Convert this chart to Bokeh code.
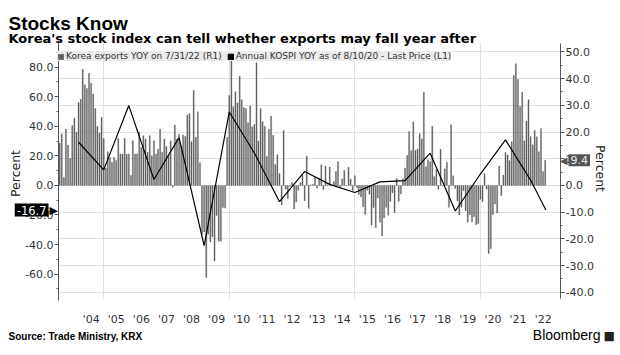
import numpy as np
import pandas as pd
from bokeh.plotting import figure
from bokeh.models import (Range1d, LinearAxis, FixedTicker, PrintfTickFormatter, Grid,
                          Legend, LegendItem, Label, ColumnDataSource)
from bokeh.embed import file_html
from bokeh.resources import INLINE

# ---------------- data ----------------
# Korea exports YoY (%), monthly, month-end, starting March 2003
exports_first_month = "2003-03-31"
exports_2003 = [15.9, 19.3, 3.0, 21.1, 15.1, 10.1, 22.4, 25.2, 19.9, 31.1]
exports_2004 = [32.3, 43.5, 37.7, 36.3, 42.0, 38.3, 34.2, 28.8, 22.1, 19.6, 25.5, 17.6]
exports_2005 = [6.4, 12.6, 10.5, 8.7, 10.5, 9.3, 17.6, 11.8, 11.8, 17.6, 11.8, 11.8]
exports_2006 = [3.7, 16.7, 11.8, 11.8, 19.9, 14.3, 18.6, 17.4, 12.4, 18.6, 11.1, 16.7]
exports_2007 = [11.8, 13.6, 21.1, 12.4, 17.4, 14.6, 11.1, 16.7, -0.7, 22.6, 17.4, 19.2]
exports_2008 = [14.9, 18.9, 18.4, 26.4, 26.9, 16.4, 35.6, 18.1, 27.6, 8.5, -18.3, -17.4]
exports_2009 = [-34.5, -18.3, -21.2, -19.2, -28.3, -11.3, -20.9, -20.9, -8.3, -8.5, 18.0, 33.7]
exports_2010 = [47.1, 29.5, 35.1, 30.9, 40.9, 32.1, 29.2, 28.8, 23.5, 29.8, 22.0, 22.9]
exports_2011 = [45.9, 16.6, 28.8, 23.9, 22.2, 10.9, 21.1, 25.9, 18.8, 7.8, 11.5, 4.4]
exports_2012 = [-7.3, 20.6, -1.4, -5.0, -0.4, 1.1, -8.8, -6.2, -1.8, 1.1, 3.9, -5.7]
exports_2013 = [11.0, -8.6, 0.2, 0.4, 3.2, -1.0, 2.6, 7.7, -1.5, 7.3, 0.2, 6.9]
exports_2014 = [-0.2, 1.5, 5.2, 9.0, -0.6, 2.5, 5.6, -0.1, 6.8, 2.4, -1.9, 3.6]
exports_2015 = [-0.9, -3.4, -4.3, -8.0, -10.9, -1.8, -3.3, -14.9, -8.3, -15.8, -4.7, -13.8]
exports_2016 = [-18.9, -12.2, -8.2, -11.2, -6.0, -2.7, -10.2, 2.6, -5.9, -3.2, 2.5, 6.4]
exports_2017 = [11.2, 20.2, 13.1, 23.8, 13.1, 13.6, 19.4, 17.4, 35.0, 7.0, 9.6, 8.9]
exports_2018 = [22.2, 3.3, 6.1, -1.5, 13.5, -0.1, 6.2, 8.7, -8.2, 22.7, 3.6, -1.2]
exports_2019 = [-5.8, -11.1, -8.2, -2.0, -9.5, -13.8, -11.0, -13.6, -11.7, -14.7, -14.3, -5.2]
exports_2020 = [-6.1, 4.5, -1.4, -25.5, -23.7, -10.9, -7.0, -10.3, 7.3, -3.8, 3.9, 12.4]
exports_2021 = [11.4, 9.3, 16.4, 41.2, 45.6, 39.8, 29.6, 34.9, 16.7, 24.1, 32.1, 18.3]
exports_2022 = [15.2, 20.6, 18.2, 12.6, 21.3, 5.2, 9.4]

# Annual KOSPI YoY (%), plotted at year end; last point year-to-date
kospi_dates = ["2003-12-31", "2004-12-31", "2005-12-31", "2006-12-31", "2007-12-31",
               "2008-12-31", "2009-12-31", "2010-12-31", "2011-12-31", "2012-12-31",
               "2013-12-31", "2014-12-31", "2015-12-31", "2016-12-31", "2017-12-31",
               "2018-12-31", "2019-12-31", "2020-12-31", "2021-12-31", "2022-08-10"]
kospi_values = [29.2, 10.5, 54.0, 4.0, 32.3, -40.7, 49.7, 21.9, -11.0, 9.4,
                0.7, -4.8, 2.4, 3.3, 21.8, -17.3, 7.7, 30.8, 3.6, -16.7]

year_ticks = list(range(2004, 2023))
year_labels = ["'%02d" % (y % 100) for y in year_ticks]
left_ticks = [-60, -40, -20, 0, 20, 40, 60, 80]
right_ticks = [-40, -30, -20, -10, 0, 10, 20, 30, 40, 50]
vgrid_years = [2005, 2010, 2015, 2020]

exports = (exports_2003 + exports_2004 + exports_2005 + exports_2006 + exports_2007 +
           exports_2008 + exports_2009 + exports_2010 + exports_2011 + exports_2012 +
           exports_2013 + exports_2014 + exports_2015 + exports_2016 + exports_2017 +
           exports_2018 + exports_2019 + exports_2020 + exports_2021 + exports_2022)

try:
    months = pd.date_range(exports_first_month, periods=len(exports), freq="ME")
except Exception:
    months = pd.date_range(exports_first_month, periods=len(exports), freq="M")


def decimal_year(dti):
    dti = pd.DatetimeIndex(dti)
    return np.asarray(dti.year + dti.dayofyear / np.where(dti.is_leap_year, 366.0, 365.0))


exp_src = ColumnDataSource(dict(x=decimal_year(months), top=exports))
kospi_src = ColumnDataSource(dict(x=decimal_year(pd.to_datetime(kospi_dates)), y=kospi_values))

# ---------------- layout geometry (canvas pixels) ----------------
W, H = 620, 355
BOX_L, BOX_R, BOX_T, BOX_B = 58, 560, 43, 298      # visible plot box
X_LO, X_HI = 2003.2, 2023.19                          # x span of plot box
YL_LO, YL_HI = -76.5, 96.0                            # left axis span (KOSPI)
YR_LO, YR_HI = -42.35, 53.15                          # right axis span (exports)


def extend(lo, hi, span_px, before_px, after_px):
    k = (hi - lo) / span_px
    return lo - before_px * k, hi + after_px * k


xr = extend(X_LO, X_HI, BOX_R - BOX_L, BOX_L, W - BOX_R)
ylr = extend(YL_LO, YL_HI, BOX_B - BOX_T, H - BOX_B, BOX_T)
yrr = extend(YR_LO, YR_HI, BOX_B - BOX_T, H - BOX_B, BOX_T)

FONT = "DejaVu Sans"
p = figure(width=W, height=H, output_backend="svg", toolbar_location=None,
           x_range=Range1d(*xr), y_range=Range1d(*ylr), min_border=0)
p.title.visible = False
p.outline_line_color = None
p.background_fill_color = "white"
p.border_fill_color = "white"
p.extra_y_ranges = {"right": Range1d(*yrr)}


def style_axis(ax):
    ax.axis_line_color = "#555555"
    ax.major_tick_line_color = "#555555"
    ax.minor_tick_line_color = "#555555"
    ax.major_tick_out = 4
    ax.major_tick_in = 0
    ax.minor_tick_out = 2
    ax.minor_tick_in = 0
    ax.major_label_standoff = 1
    ax.major_label_text_font = FONT
    ax.major_label_text_font_size = "11px"
    ax.major_label_text_color = "#333333"


# left axis (KOSPI, L1)
lax = p.yaxis[0]
lax.ticker = FixedTicker(ticks=left_ticks, minor_ticks=list(range(-70, 100, 10)))
lax.formatter = PrintfTickFormatter(format="%.1f")
lax.fixed_location = X_LO
lax.bounds = (YL_LO - 1.4, YL_HI + 2.0)
style_axis(lax)

# right axis (exports, R1)
rax = LinearAxis(y_range_name="right",
                 ticker=FixedTicker(ticks=right_ticks, minor_ticks=list(range(-40, 55, 5))),
                 formatter=PrintfTickFormatter(format="%.1f"))
rax.fixed_location = X_HI
rax.bounds = (YR_LO, YR_HI)
style_axis(rax)
p.add_layout(rax, "right")

# bottom axis
xax = p.xaxis[0]
xax.fixed_location = YL_LO
xax.ticker = FixedTicker(ticks=[y + 0.5 for y in year_ticks], minor_ticks=[])
xax.major_label_overrides = {y + 0.5: lab for y, lab in zip(year_ticks, year_labels)}
xax.axis_line_color = None
xax.major_tick_line_color = None
xax.minor_tick_line_color = None
xax.major_label_standoff = 8
xax.major_label_text_font = FONT
xax.major_label_text_font_size = "11px"
xax.major_label_text_color = "#333333"

# grids, limited to the plot box
GRID_COLOR = "#c4c4c4"
p.xgrid.visible = False
p.ygrid.visible = False
try:
    vgrid = Grid(dimension=0, ticker=FixedTicker(ticks=vgrid_years), cross_bounds=(YL_LO, YL_HI),
                 grid_line_color=GRID_COLOR, grid_line_dash="1 1")
    hgrid = Grid(dimension=1, ticker=FixedTicker(ticks=right_ticks), y_range_name="right",
                 cross_bounds=(X_LO, X_HI), grid_line_color=GRID_COLOR, grid_line_dash="1 1")
    p.add_layout(vgrid)
    p.add_layout(hgrid)
except Exception:
    p.segment(x0=vgrid_years, x1=vgrid_years, y0=[YL_LO] * len(vgrid_years),
              y1=[YL_HI] * len(vgrid_years), line_color=GRID_COLOR, line_dash="1 1")
    p.segment(x0=[X_LO] * len(right_ticks), x1=[X_HI] * len(right_ticks), y0=right_ticks,
              y1=right_ticks, y_range_name="right", line_color=GRID_COLOR, line_dash="1 1")

# data marks
bars = p.vbar(x="x", top="top", bottom=0, width=0.045, source=exp_src,
              y_range_name="right", fill_color="#606060", line_color="#606060", line_width=0.3)
p.line(x="x", y="y", source=kospi_src, line_color="black", line_width=1.2)
key_src = ColumnDataSource(dict(l=[np.nan], r=[np.nan], t=[np.nan], b=[np.nan]))
kospi_key = p.quad(left="l", right="r", top="t", bottom="b", source=key_src,
                   fill_color="black", line_color="black")

legend = Legend(items=[LegendItem(label="Korea exports YOY on 7/31/22 (R1)", renderers=[bars]),
                       LegendItem(label="Annual KOSPI YOY as of 8/10/20 - Last Price (L1)",
                                  renderers=[kospi_key])],
                location=(BOX_L - 1, H - 61), orientation="horizontal", margin=0, padding=5,
                spacing=5, glyph_width=7, glyph_height=7, label_standoff=2,
                label_height=10, label_text_font=FONT,
                label_text_font_size="9px", label_text_color="#333333",
                background_fill_color="#ebebeb", background_fill_alpha=1.0,
                border_line_color=None)
p.add_layout(legend)


def canvas_label(**kw):
    kw.setdefault("x_units", "canvas")
    kw.setdefault("y_units", "canvas")
    p.add_layout(Label(**kw))


# callouts for last values
last_k = kospi_values[-1]
canvas_label(x=48, y=last_k, y_units="data", text="%.1f" % last_k,
             text_align="right", text_baseline="middle", text_font=FONT,
             text_font_size="11.5px", text_color="white",
             background_fill_color="black", padding=2)
canvas_label(x=49, y=last_k, y_units="data", text="\u25b6",
             text_align="left", text_baseline="middle", text_font=FONT,
             text_font_size="11px", text_color="black")
last_e = exports[-1]
canvas_label(x=568, y=last_e, y_units="data", y_range_name="right",
             text="%.1f" % last_e, text_align="left", text_baseline="middle",
             text_font=FONT, text_font_size="11px", text_color="#eeeeee",
             background_fill_color="#555555", padding=2)
canvas_label(x=567, y=last_e, y_units="data", y_range_name="right",
             text="\u25c0", text_align="right", text_baseline="middle",
             text_font=FONT, text_font_size="10px", text_color="#555555")

# axis titles
canvas_label(x=15, y=173, text="Percent", angle=np.pi / 2,
             text_align="center", text_baseline="middle",
             text_font=FONT, text_font_size="12.5px", text_color="#222222")
canvas_label(x=600, y=168, text="Percent", angle=-np.pi / 2,
             text_align="center", text_baseline="middle",
             text_font=FONT, text_font_size="12.5px", text_color="#222222")

# titles and footer
canvas_label(x=8, y=23, text="Stocks Know",
             text_font="Liberation Sans", text_font_style="bold",
             text_font_size="19px", text_color="black", text_baseline="alphabetic")
canvas_label(x=8, y=38,
             text="Korea's stock index can tell whether exports may fall year after",
             text_font=FONT, text_font_style="bold",
             text_font_size="13px", text_color="black", text_baseline="alphabetic")
canvas_label(x=8, y=336, text="Source: Trade Ministry, KRX",
             text_font="Liberation Sans", text_font_style="bold",
             text_font_size="10px", text_color="black", text_baseline="alphabetic")
canvas_label(x=600, y=334, text="Bloomberg", text_align="right",
             text_font="Liberation Sans", text_font_size="14px", text_color="black",
             text_baseline="alphabetic")
canvas_label(x=603, y=335, text="\u25a0", text_align="left", text_font=FONT,
             text_font_size="12px", text_color="#222222", text_baseline="alphabetic")

open("out.html", "w").write(file_html(p, INLINE))
